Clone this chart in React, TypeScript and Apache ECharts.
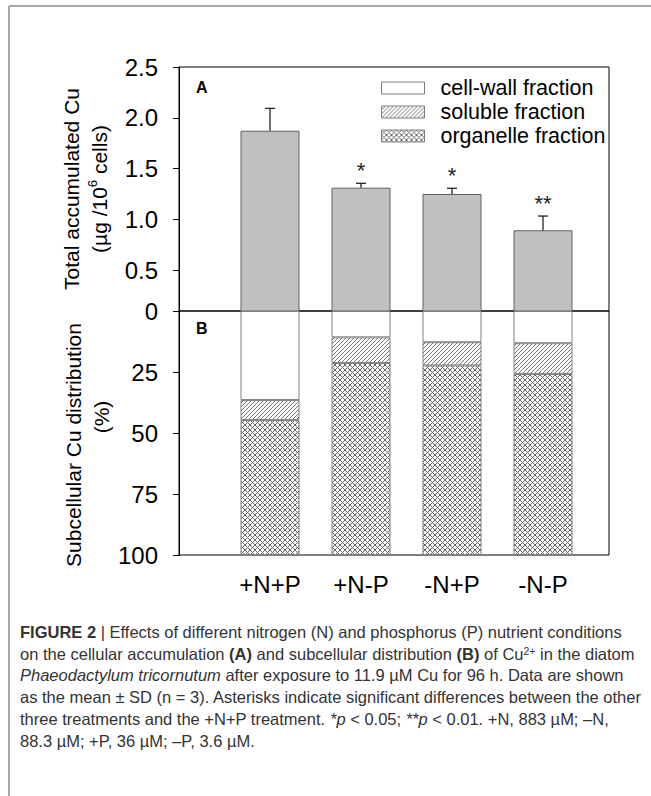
import React, { useEffect, useRef } from "react";
import * as echarts from "echarts";

// ---------- data ----------
const categories = ["+N+P", "+N-P", "-N+P", "-N-P"];
const totalCu = [1.873, 1.313, 1.251, 0.894];
const totalCuSD = [0.22, 0.043, 0.056, 0.14];
const significance = ["", "*", "*", "**"];
const seriesNames = ["cell-wall fraction", "soluble fraction", "organelle fraction"];
const cellWallPct = [36.5, 10.8, 12.8, 13.2];
const solublePct = [8.2, 10.5, 9.5, 12.6];
const organellePct = [55.3, 78.7, 77.7, 74.2];
// panel A axis (bottom tick sits at 0.1 and is labelled "0", as in the original broken axis)
const yTicksA = [0.1, 0.5, 1.0, 1.5, 2.0, 2.5];
const yTickLabelsA = ["0", "0.5", "1.0", "1.5", "2.0", "2.5"];
const yMinB = 0;
const yMaxB = 100;
const yIntervalB = 25;

const FONT = "'Liberation Sans', Arial, sans-serif";
const CAP_FONT = "'Liberation Sans Narrow', 'Liberation Sans', Arial, sans-serif";

function makePattern(size: number, cross: boolean, color: string) {
  const c = document.createElement("canvas");
  c.width = size;
  c.height = size;
  const ctx = c.getContext("2d")!;
  ctx.fillStyle = "#ffffff";
  ctx.fillRect(0, 0, size, size);
  ctx.strokeStyle = color;
  ctx.lineWidth = 1;
  const line = (x1: number, y1: number, x2: number, y2: number) => {
    ctx.beginPath();
    ctx.moveTo(x1, y1);
    ctx.lineTo(x2, y2);
    ctx.stroke();
  };
  line(-1, size + 1, size + 1, -1);
  line(-1, 1, 1, -1);
  line(size - 1, size + 1, size + 1, size - 1);
  if (cross) {
    line(-1, -1, size + 1, size + 1);
    line(size - 1, -1, size + 1, 1);
    line(-1, size - 1, 1, size + 1);
  }
  return c;
}

const captionLines = [
  "{b|FIGURE 2} | Effects of different nitrogen (N) and phosphorus (P) nutrient conditions",
  "on the cellular accumulation {b|(A)} and subcellular distribution {b|(B)} of Cu{sup|2+} in the diatom",
  "{i|Phaeodactylum tricornutum} after exposure to 11.9 µM Cu for 96 h. Data are shown",
  "as the mean ± SD (n = 3). Asterisks indicate significant differences between the other",
  "three treatments and the +N+P treatment. {i|*p} < 0.05; {i|**p} < 0.01. +N, 883 µM; –N,",
  "88.3 µM; +P, 36 µM; –P, 3.6 µM.",
];

export default function App() {
  const ref = useRef<HTMLDivElement>(null);
  useEffect(() => {
    document.body.style.margin = "0";
    if (!ref.current) return;
    const chart = echarts.init(ref.current, undefined, { renderer: "svg" });

    const hatch = { image: makePattern(4, false, "#777"), repeat: "repeat" };
    const crossHatch = { image: makePattern(5, true, "#666"), repeat: "repeat" };

    const capBase = { fontFamily: CAP_FONT, fontSize: 16.5, fill: "#333" };
    const capRich = {
      b: { ...capBase, fontWeight: "bold" },
      i: { ...capBase, fontStyle: "italic" },
      sup: { ...capBase, fontSize: 10.5, verticalAlign: "top" },
    };

    const barStyles = [
      { color: "#ffffff", borderColor: "#808080", borderWidth: 1 },
      { color: hatch, borderColor: "#808080", borderWidth: 1 },
      { color: crossHatch, borderColor: "#808080", borderWidth: 1 },
    ];
    const fractions = [cellWallPct, solublePct, organellePct];

    const frameTop = 67, panelH = 244, frameLeft = 179, frameW = 430;
    const barsLeft = 224.5, barsW = 364;

    const option: any = {
      animation: false,
      backgroundColor: "#fff",
      textStyle: { fontFamily: FONT },
      grid: [
        // frames with the visible y axes
        { left: frameLeft, top: frameTop, width: frameW, height: panelH, show: true, borderColor: "#000", borderWidth: 1, backgroundColor: "transparent" },
        { left: frameLeft, top: frameTop + panelH, width: frameW, height: panelH, show: true, borderColor: "#000", borderWidth: 1, backgroundColor: "transparent" },
        // bar placement grids
        { left: barsLeft, top: frameTop, width: barsW, height: panelH },
        { left: barsLeft, top: frameTop + panelH, width: barsW, height: panelH },
      ],
      legend: {
        data: seriesNames.map((n, i) => ({ name: n, itemStyle: barStyles[i] })),
        orient: "vertical",
        left: 381,
        top: 76,
        padding: 0,
        icon: "rect",
        itemWidth: 43,
        itemHeight: 12,
        itemGap: 0,
        selectedMode: false,
        textStyle: { fontFamily: FONT, fontSize: 21.5, color: "#000", lineHeight: 24, padding: [0, 0, 0, 11] },
      },
      xAxis: [
        { gridIndex: 0, type: "value", min: 0, max: 1, show: false },
        { gridIndex: 1, type: "value", min: 0, max: 1, show: false },
        { gridIndex: 2, type: "category", data: categories, show: false },
        {
          gridIndex: 3, type: "category", data: categories,
          axisLine: { show: false },
          axisTick: { show: false },
          axisLabel: { fontSize: 24, color: "#000", fontFamily: FONT, margin: 17 },
        },
      ],
      yAxis: [
        {
          gridIndex: 0, type: "value", min: yTicksA[0], max: yTicksA[yTicksA.length - 1],
          axisLine: { show: true, lineStyle: { color: "#000" } },
          axisTick: { show: true, length: 6, customValues: yTicksA, lineStyle: { color: "#000" } },
          splitLine: { show: false },
          axisLabel: {
            customValues: yTicksA, fontSize: 24, color: "#000", fontFamily: FONT, margin: 21,
            formatter: (v: number) => {
              const i = yTicksA.findIndex((t) => Math.abs(t - v) < 1e-6);
              return i >= 0 ? yTickLabelsA[i] : "";
            },
          },
          name: "Total accumulated Cu\n(µg /10{sup|6} cells)",
          nameLocation: "middle",
          nameGap: 64,
          nameRotate: 90,
          nameTextStyle: {
            fontFamily: FONT, fontSize: 21, color: "#000", lineHeight: 28,
            rich: { sup: { fontFamily: FONT, fontSize: 13, color: "#000", verticalAlign: "top", lineHeight: 28 } },
          },
        },
        {
          gridIndex: 1, type: "value", inverse: true, min: yMinB, max: yMaxB, interval: yIntervalB,
          axisLine: { show: true, lineStyle: { color: "#000" } },
          axisTick: { show: true, length: 6, lineStyle: { color: "#000" } },
          splitLine: { show: false },
          axisLabel: { fontSize: 24, color: "#000", fontFamily: FONT, margin: 21, showMinLabel: false },
        },
        { gridIndex: 2, type: "value", min: yTicksA[0], max: yTicksA[yTicksA.length - 1], show: false },
        { gridIndex: 3, type: "value", inverse: true, min: yMinB, max: yMaxB, show: false },
      ],
      series: [
        {
          type: "bar", xAxisIndex: 2, yAxisIndex: 2, barWidth: 59,
          data: totalCu,
          itemStyle: { color: "#c0c0c0", borderColor: "#606060", borderWidth: 1 },
        },
        {
          type: "custom", xAxisIndex: 2, yAxisIndex: 2, z: 5,
          data: categories.map((c, i) => [i, totalCu[i], totalCu[i] + totalCuSD[i]]),
          renderItem: (params: any, api: any) => {
            const x = api.value(0);
            const p0 = api.coord([x, api.value(1)]);
            const p1 = api.coord([x, api.value(2)]);
            const idx = params.dataIndex;
            const cap = 5;
            return {
              type: "group",
              children: [
                { type: "line", shape: { x1: p0[0], y1: p0[1], x2: p1[0], y2: p1[1] }, style: { stroke: "#222", lineWidth: 1.3 } },
                { type: "line", shape: { x1: p1[0] - cap, y1: p1[1], x2: p1[0] + cap, y2: p1[1] }, style: { stroke: "#222", lineWidth: 1.3 } },
                {
                  type: "text", x: p1[0], y: p1[1] - 2,
                  style: { text: significance[idx], fontFamily: FONT, fontSize: 22, fill: "#222", align: "center", verticalAlign: "bottom" },
                },
              ],
            };
          },
        },
        ...seriesNames.map((name, s) => ({
          name, type: "bar", stack: "dist", xAxisIndex: 3, yAxisIndex: 3, barWidth: 59,
          data: fractions[s],
          itemStyle: barStyles[s],
        })),
      ],
      graphic: [
        { type: "line", shape: { x1: 9, y1: 6, x2: 651, y2: 6 }, style: { stroke: "#a8a8a8", lineWidth: 2 } },
        { type: "line", shape: { x1: 9, y1: 6, x2: 9, y2: 796 }, style: { stroke: "#a8a8a8", lineWidth: 2 } },
        { type: "text", x: 196, y: 87, style: { text: "A", fontFamily: FONT, fontSize: 16, fontWeight: "bold", fill: "#000", verticalAlign: "middle" } },
        { type: "text", x: 196, y: 328, style: { text: "B", fontFamily: FONT, fontSize: 16, fontWeight: "bold", fill: "#000", verticalAlign: "middle" } },
        {
          type: "text", x: 73, y: 445, rotation: Math.PI / 2,
          style: { text: "Subcellular Cu distribution", fontFamily: FONT, fontSize: 21, fill: "#000", align: "center", verticalAlign: "middle" },
        },
        {
          type: "text", x: 101, y: 417, rotation: Math.PI / 2,
          style: { text: "(%)", fontFamily: FONT, fontSize: 21, fill: "#000", align: "center", verticalAlign: "middle" },
        },
        ...captionLines.map((t, i) => ({
          type: "text", x: 20, y: 632 + i * 21.7,
          style: { text: t, ...capBase, verticalAlign: "middle", rich: capRich },
        })),
      ],
    };
    chart.setOption(option);
    return () => chart.dispose();
  }, []);
  return <div ref={ref} style={{ width: 651, height: 796 }} />;
}
